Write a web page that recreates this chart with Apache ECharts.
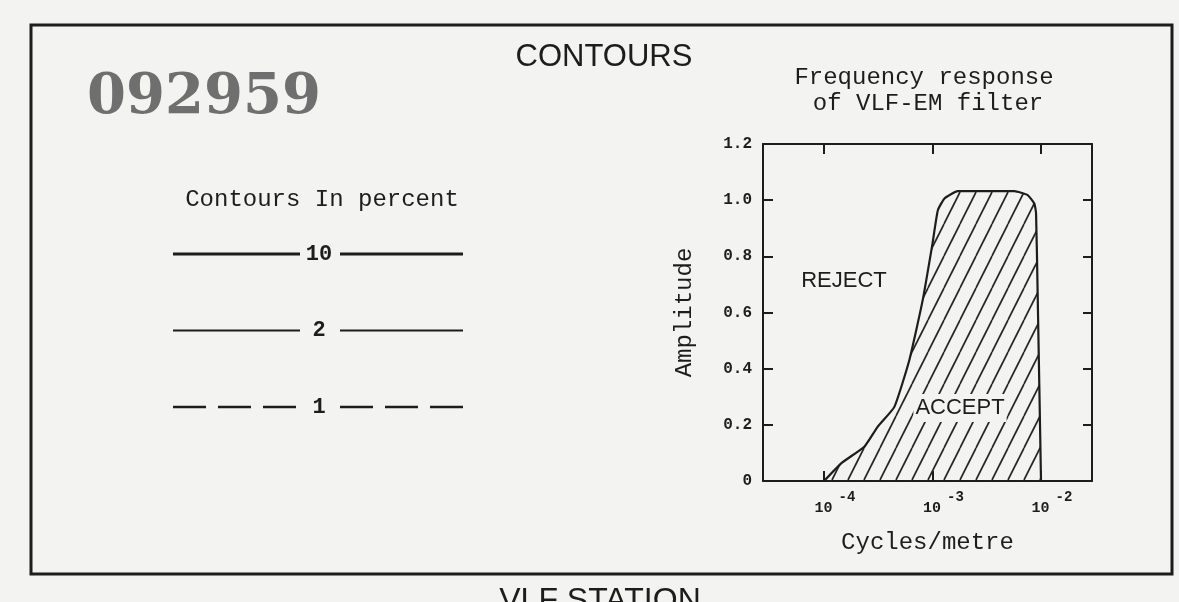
<!DOCTYPE html>
<html>
<head>
<meta charset="utf-8">
<title>VLF-EM filter — contours</title>
<script src="https://cdn.jsdelivr.net/npm/echarts@6/dist/echarts.min.js"></script>
<style>
  html, body { margin: 0; padding: 0; background: #f3f3f1; }
  #chart { width: 1179px; height: 602px; }
</style>
</head>
<body>
<div id="chart"></div>
<script>
// Frequency response of the VLF-EM filter (cycles/metre vs amplitude)
const freq = [1.0e-4, 1.44e-4, 2.35e-4, 3.12e-4, 4.45e-4, 6.11e-4, 8.12e-4, 1.0e-3,
              1.12e-3, 1.29e-3, 1.71e-3, 5.68e-3, 7.54e-3, 8.67e-3, 9.0e-3, 9.31e-3, 1.0e-2];
const amplitude = [0, 0.063, 0.122, 0.193, 0.264, 0.43, 0.644, 0.846,
                   0.964, 1.006, 1.032, 1.032, 1.018, 0.988, 0.953, 0.668, 0];

// Axis ticks
const yTickLabels = ['0', '0.2', '0.4', '0.6', '0.8', '1.0', '1.2'];
const xTickValues = [1e-4, 1e-3, 1e-2];

// Contour legend levels (percent)
const contourLevels = ['10', '2', '1'];

const INK = '#1d1d1d';
const MONO = '"Liberation Mono", "DejaVu Sans Mono", monospace';
const SANS = '"Liberation Sans", Arial, sans-serif';

// Diagonal hatch tile for the accepted band
function hatchTile() {
  const w = 16, h = 32;
  const c = document.createElement('canvas');
  c.width = w; c.height = h;
  const g = c.getContext('2d');
  g.strokeStyle = '#262626';
  g.lineWidth = 1.7;
  for (let k = -1; k <= 1; k++) {
    g.beginPath();
    g.moveTo(k * w, h);
    g.lineTo(k * w + w, 0);
    g.stroke();
  }
  return c;
}

const chart = echarts.init(document.getElementById('chart'), null, { renderer: 'canvas' });

const lineStyleFor = [
  { lineWidth: 3.2, lineDash: null },
  { lineWidth: 2.2, lineDash: null },
  { lineWidth: 2.4, lineDash: [33, 12] }
];

const legendGraphics = [];
contourLevels.forEach(function (lvl, i) {
  const y = 254 + i * 76.5;
  const st = lineStyleFor[i];
  legendGraphics.push({
    type: 'line', shape: { x1: 173, y1: y, x2: 300, y2: y },
    style: { stroke: INK, lineWidth: st.lineWidth, lineDash: st.lineDash }
  });
  legendGraphics.push({
    type: 'line', shape: { x1: 340, y1: y, x2: 463, y2: y },
    style: { stroke: INK, lineWidth: st.lineWidth, lineDash: st.lineDash }
  });
  legendGraphics.push({
    type: 'text', x: 319, y: y,
    style: { text: lvl, font: 'bold 22px ' + MONO, fill: INK,
             textAlign: 'center', textVerticalAlign: 'middle', align: 'center', verticalAlign: 'middle' }
  });
});

function label(text, x, y, font, extra) {
  return {
    type: 'text', x: x, y: y,
    style: Object.assign({ text: text, font: font, fill: INK,
      textAlign: 'center', textVerticalAlign: 'middle', align: 'center', verticalAlign: 'middle' }, extra || {})
  };
}

const option = {
  backgroundColor: '#f3f3f1',
  animation: false,
  grid: { left: 763, top: 144, width: 329, height: 337, containLabel: false },
  xAxis: [
    {
      type: 'log', logBase: 10, min: 2.74e-5, max: 0.0295, position: 'bottom',
      axisLine: { onZero: false, lineStyle: { color: INK, width: 2 } },
      axisTick: { inside: true, length: 10, customValues: xTickValues, lineStyle: { color: INK, width: 2 } },
      splitLine: { show: false },
      minorTick: { show: false },
      axisLabel: {
        margin: 9,
        customValues: xTickValues,
        formatter: function (v) {
          const e = Math.round(Math.log10(v));
          return '{p| }{b|10}{e|' + e + '}';
        },
        rich: {
          p: { width: 22 },
          b: { fontFamily: MONO, fontWeight: 'bold', fontSize: 15, color: INK, lineHeight: 26, verticalAlign: 'bottom' },
          e: { fontFamily: MONO, fontWeight: 'bold', fontSize: 14, color: INK, lineHeight: 26, verticalAlign: 'top', padding: [0, 0, 0, 6] }
        }
      },
      name: 'Cycles/metre', nameLocation: 'middle', nameGap: 50,
      nameTextStyle: { fontFamily: MONO, fontSize: 24, color: INK }
    },
    {
      type: 'log', logBase: 10, min: 2.74e-5, max: 0.0295, position: 'top',
      axisLine: { onZero: false, lineStyle: { color: INK, width: 2 } },
      axisTick: { inside: true, length: 10, customValues: xTickValues, lineStyle: { color: INK, width: 2 } },
      axisLabel: { show: false }, splitLine: { show: false }, minorTick: { show: false }
    }
  ],
  yAxis: [
    {
      type: 'value', min: 0, max: 1.2, interval: 0.2, position: 'left',
      axisLine: { show: true, onZero: false, lineStyle: { color: INK, width: 2 } },
      axisTick: { show: true, inside: true, length: 10, lineStyle: { color: INK, width: 2 } },
      splitLine: { show: false },
      axisLabel: {
        margin: 11, fontFamily: MONO, fontWeight: 'bold', fontSize: 16, color: INK,
        formatter: function (v) { return yTickLabels[Math.round(v / 0.2)]; }
      },
      name: 'Amplitude', nameLocation: 'middle', nameGap: 66,
      nameTextStyle: { fontFamily: MONO, fontSize: 24, color: INK }
    },
    {
      type: 'value', min: 0, max: 1.2, interval: 0.2, position: 'right',
      axisLine: { show: true, onZero: false, lineStyle: { color: INK, width: 2 } },
      axisTick: { show: true, inside: true, length: 9, lineStyle: { color: INK, width: 2 } },
      axisLabel: { show: false }, splitLine: { show: false }
    }
  ],
  series: [
    {
      name: 'Filter response',
      type: 'line',
      xAxisIndex: 0, yAxisIndex: 0,
      data: freq.map(function (f, i) { return [f, amplitude[i]]; }),
      showSymbol: false,
      smooth: 0.15,
      lineStyle: { color: INK, width: 2.2 },
      areaStyle: { color: { image: hatchTile(), repeat: 'repeat' }, opacity: 1 },
      z: 2
    }
  ],
  graphic: [
    // outer frame
    { type: 'rect', shape: { x: 31, y: 25, width: 1141, height: 549 },
      style: { fill: null, stroke: INK, lineWidth: 3 }, z: 10 },
    // stamped number
    label('092959', 204, 98, 'bold 56px "DejaVu Serif", "Liberation Serif", serif', { fill: '#6f6f6f' }),
    label('CONTOURS', 604, 57, '31px ' + SANS),
    label('Frequency response', 924, 78, '24px ' + MONO),
    label('of VLF-EM filter', 928, 104, '24px ' + MONO),
    label('Contours In percent', 322, 200, '24px ' + MONO),
    label('REJECT', 844, 281, '22px ' + SANS),
    { type: 'text', x: 960, y: 408, z: 20,
      style: { text: 'ACCEPT', font: '22px ' + SANS, fill: INK, backgroundColor: '#f3f3f1', padding: [3, 2, 3, 2],
               textAlign: 'center', textVerticalAlign: 'middle', align: 'center', verticalAlign: 'middle' } },
    label('VLF STATION', 600, 601, '32px ' + SANS)
  ].concat(legendGraphics)
};

chart.setOption(option);
</script>
</body>
</html>
